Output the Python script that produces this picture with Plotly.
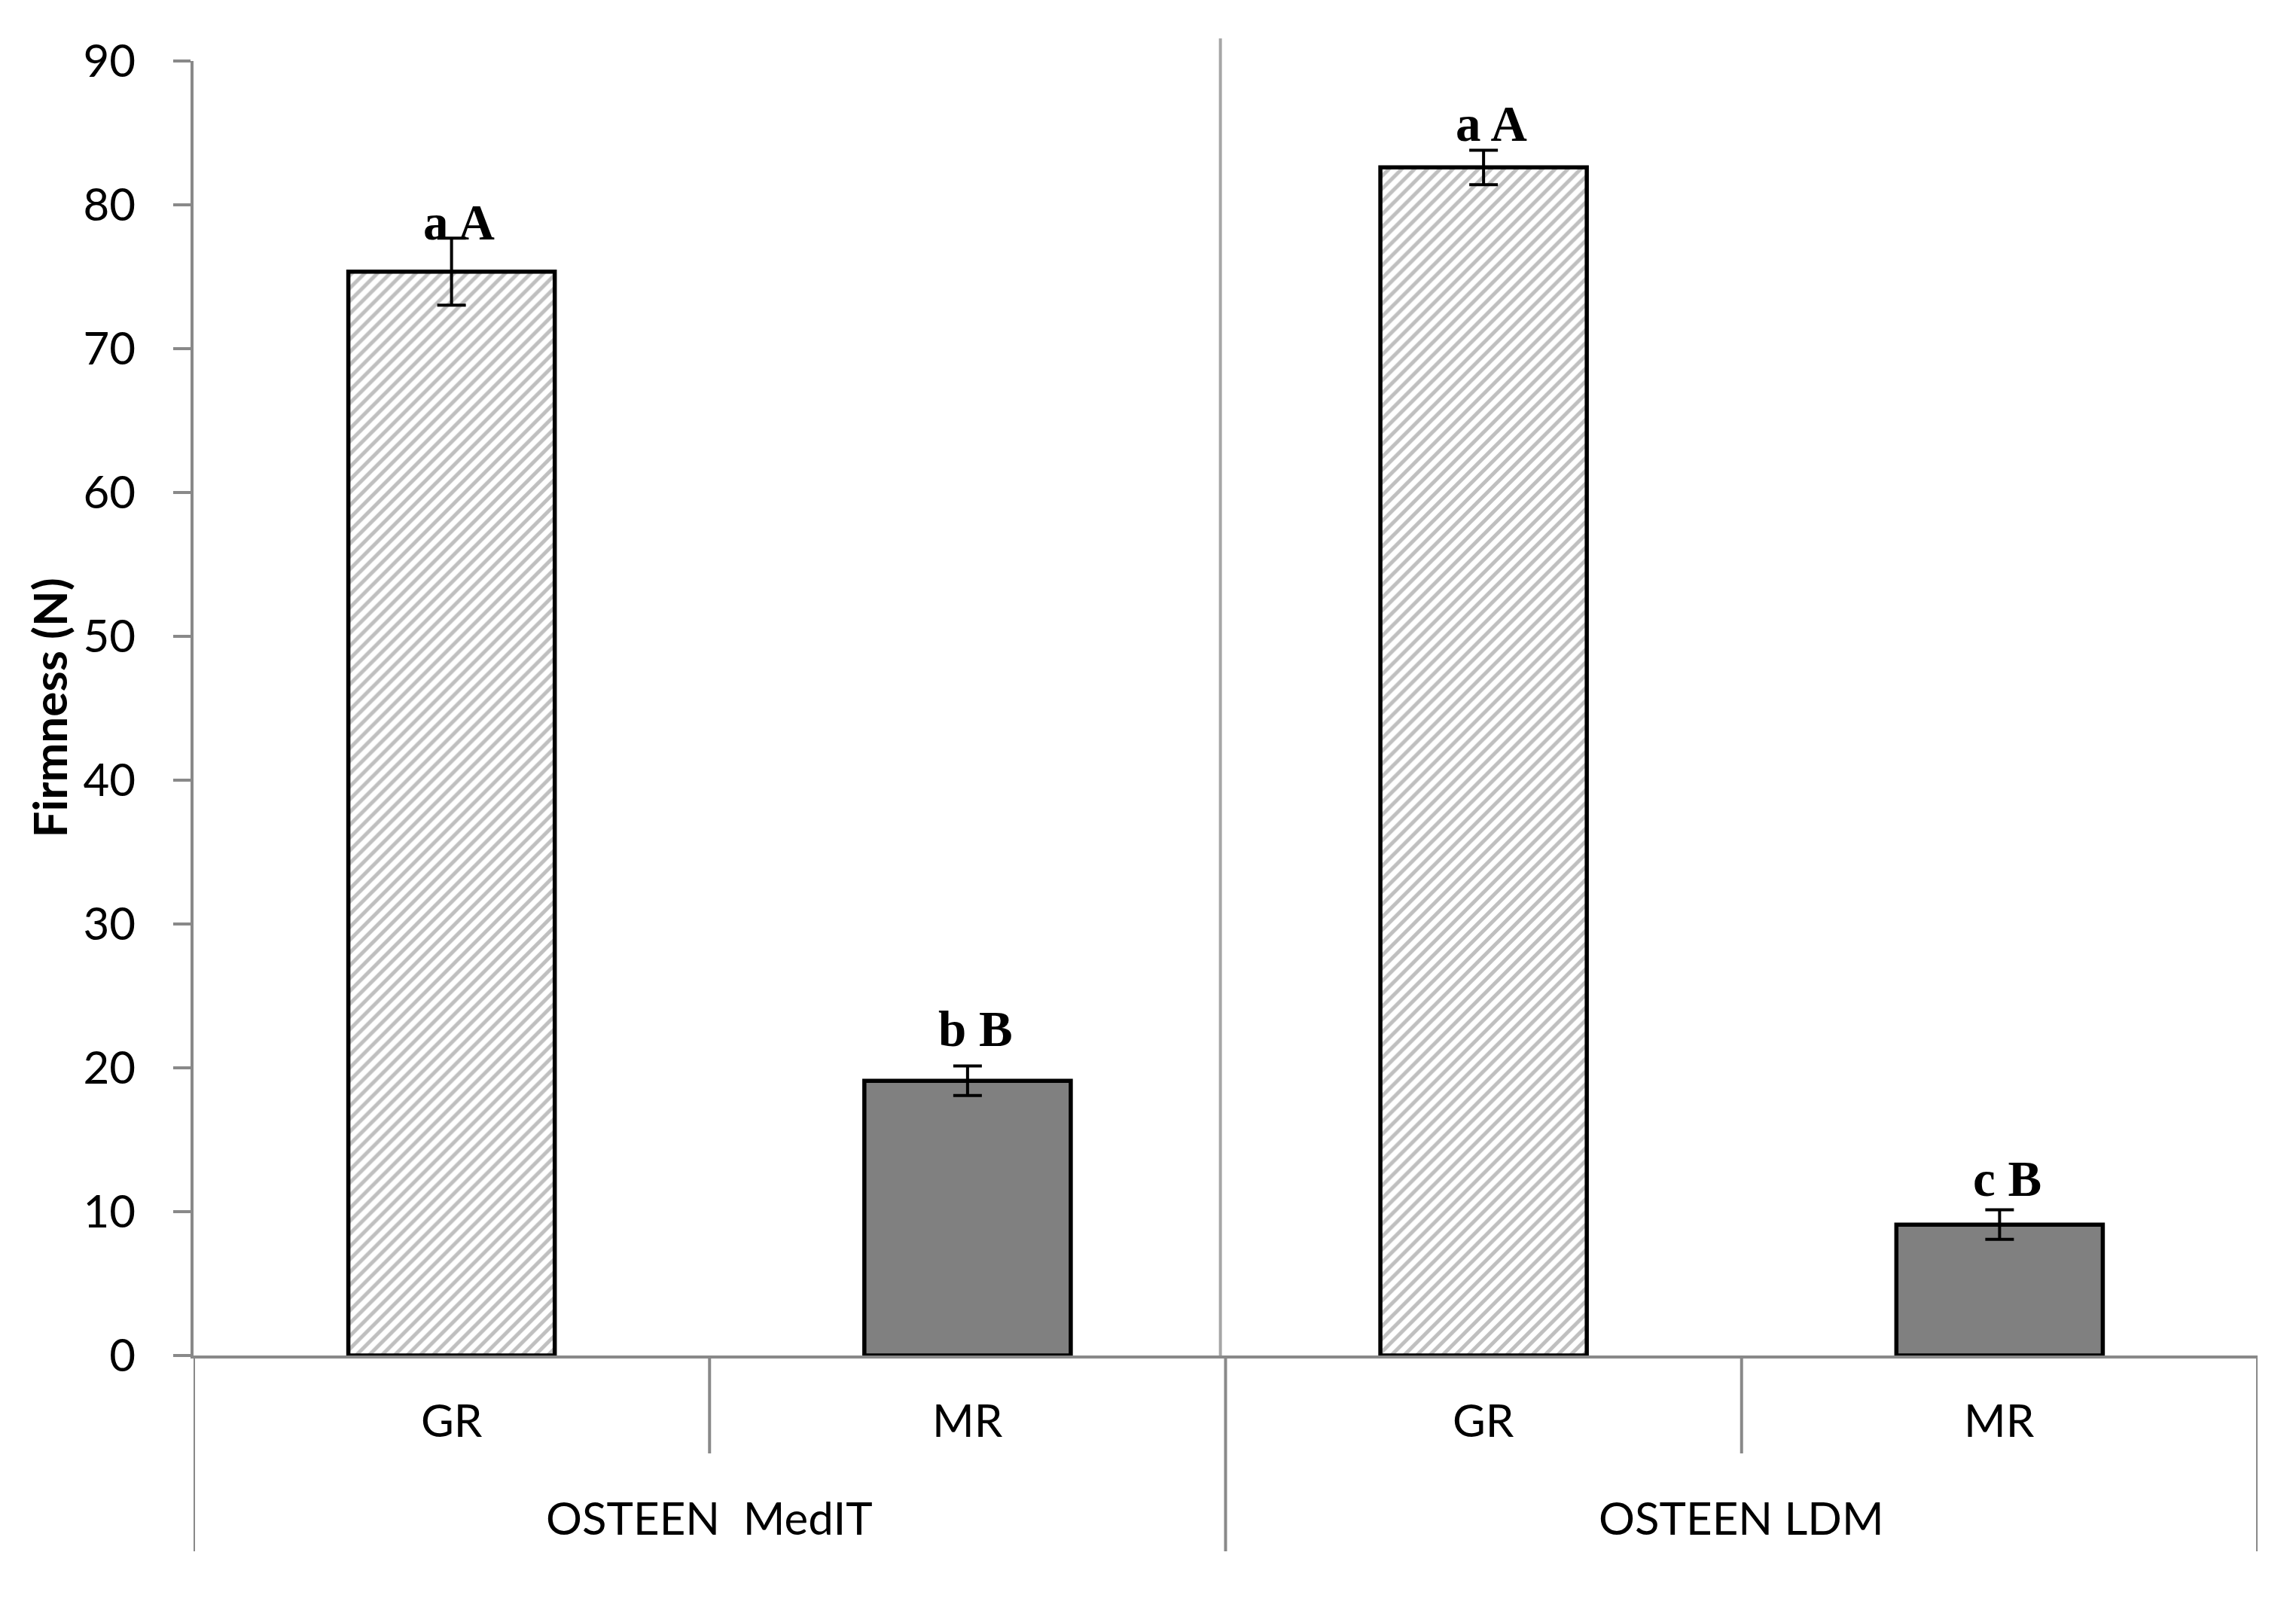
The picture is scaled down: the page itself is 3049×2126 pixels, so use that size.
import plotly.graph_objects as go

# ---- data ----
groups = ["OSTEEN\u00a0 MedIT", "OSTEEN LDM"]
stages = ["GR", "MR"]
gr_firmness = [75.35, 82.6]
gr_error = [2.33, 1.2]
mr_firmness = [19.1, 9.1]
mr_error = [1.03, 1.03]
gr_letters = ["a A", "a A"]
mr_letters = ["b B", "c B"]
gr_letter_gap = [1.1, 1.85]
mr_letter_gap = [2.6, 2.2]
y_ticks = [0, 10, 20, 30, 40, 50, 60, 70, 80, 90]

# category positions (index order: group0-GR, group0-MR, group1-GR, group1-MR)
gr_x = [0, 2]
mr_x = [1, 3]

# page has an 8px body margin; compensate so the plot lands where intended
OFF = 8
W, H = 3049 - 2 * OFF, 2126 - 2 * OFF
PL, PR, PT, PB = 257, 2998, 81, 1800          # target plot-area edges on the page
L, R, T, B = PL - OFF, W - (PR - OFF), PT - OFF, H - (PB - OFF)
PH = PB - PT
AXIS_GRAY = "#898989"


def below(page_y):
    return -(page_y - PB) / PH


fig = go.Figure()
fig.add_trace(go.Bar(
    x=gr_x, y=gr_firmness, width=0.4, name="GR",
    marker=dict(color="white",
                line=dict(color="black", width=5.5),
                pattern=dict(shape="/", fgcolor="#808080", bgcolor="white",
                             size=12, solidity=0.42)),
    error_y=dict(type="data", array=gr_error, color="black", thickness=4, width=19),
    showlegend=False,
))
fig.add_trace(go.Bar(
    x=mr_x, y=mr_firmness, width=0.4, name="MR",
    marker=dict(color="#808080", line=dict(color="black", width=5.5)),
    error_y=dict(type="data", array=mr_error, color="black", thickness=4, width=19),
    showlegend=False,
))

annotations = []
letter_font = dict(family="Liberation Serif", size=67, color="black")
for xs, vals, errs, labs, gaps in [(gr_x, gr_firmness, gr_error, gr_letters, gr_letter_gap),
                                   (mr_x, mr_firmness, mr_error, mr_letters, mr_letter_gap)]:
    for x, v, e, lab, g in zip(xs, vals, errs, labs, gaps):
        annotations.append(dict(x=x + 0.015, y=v + e + g, xref="x", yref="y",
                                text="<b>" + lab + "</b>", showarrow=False,
                                font=letter_font, xanchor="center", yanchor="middle"))

tick_font = dict(family="Lato", size=60, color="black")
# stage labels
for i in range(4):
    annotations.append(dict(x=i, y=below(1885), xref="x", yref="paper",
                            text=stages[i % 2], showarrow=False, font=tick_font,
                            xanchor="center", yanchor="middle"))
# group labels
for gi, g in enumerate(groups):
    annotations.append(dict(x=gi * 2 + 0.5, y=below(2015), xref="x", yref="paper",
                            text=g, showarrow=False, font=tick_font,
                            xanchor="center", yanchor="middle"))
# y title
annotations.append(dict(x=(64 - PL) / (PR - PL), y=0.5, xref="paper", yref="paper",
                        text="<b>Firmness (N)</b>", showarrow=False, textangle=-90,
                        font=dict(family="Lato", size=62, color="black"),
                        xanchor="center", yanchor="middle"))

shapes = []
# separator inside plot
shapes.append(dict(type="line", xref="x", yref="paper", x0=1.49, x1=1.49, y0=0,
                   y1=1 + (PT - 51) / PH, line=dict(color="#a6a6a6", width=4)))
# stage separators below axis
for xs in [0.5, 2.5]:
    shapes.append(dict(type="line", xref="x", yref="paper", x0=xs, x1=xs, y0=0,
                       y1=below(1930), line=dict(color=AXIS_GRAY, width=4)))
# group separators below axis
for xs in [-0.5, 1.5, 3.5]:
    shapes.append(dict(type="line", xref="x", yref="paper", x0=xs, x1=xs, y0=0,
                       y1=below(2060), line=dict(color=AXIS_GRAY, width=4)))

fig.update_layout(
    width=W, height=H,
    margin=dict(l=L, r=R, t=T, b=B, pad=0),
    paper_bgcolor="white", plot_bgcolor="white",
    barmode="overlay",
    annotations=annotations, shapes=shapes,
    xaxis=dict(range=[-0.5, 3.5], showgrid=False, zeroline=False, showticklabels=False,
               ticks="", showline=True, linecolor=AXIS_GRAY, linewidth=4),
    yaxis=dict(range=[0, 90], tickvals=y_ticks, showgrid=False, zeroline=False,
               ticks="outside", ticklen=23, tickwidth=4, tickcolor=AXIS_GRAY,
               showline=True, linecolor=AXIS_GRAY, linewidth=4,
               tickfont=tick_font, ticklabelstandoff=38),
)

fig.write_html("out.html")
